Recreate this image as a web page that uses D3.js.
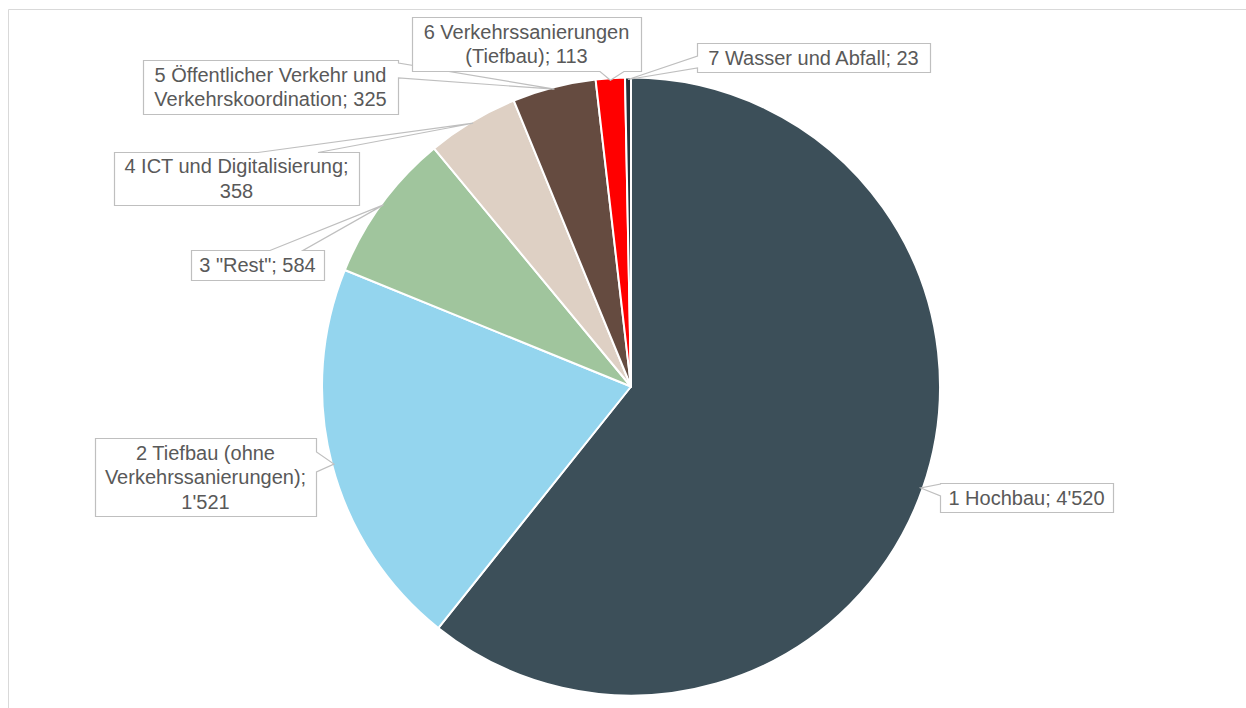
<!DOCTYPE html>
<html>
<head>
<meta charset="utf-8">
<script src="https://cdn.jsdelivr.net/npm/d3@7/dist/d3.min.js"></script>
<style>
  html, body { margin: 0; padding: 0; background: #ffffff; }
  svg { display: block; }
</style>
</head>
<body>
<svg id="chart" width="1246" height="708"></svg>
<script>
// Investitionen nach Bereich
const categories = [
  "1 Hochbau",
  "2 Tiefbau (ohne Verkehrssanierungen)",
  "3 \"Rest\"",
  "4 ICT und Digitalisierung",
  "5 Öffentlicher Verkehr und Verkehrskoordination",
  "6 Verkehrssanierungen (Tiefbau)",
  "7 Wasser und Abfall"
];
const values = [4520, 1521, 584, 358, 325, 113, 23];
const sliceColors = ["#3c4f59", "#94d5ee", "#a0c59d", "#ded0c4", "#654b40", "#ff0000", "#25323a"];

// Callout boxes: rectangle, edge carrying the pointer, and the pointer base along that edge
const callouts = [
  { x: 940, y: 483, w: 173, h: 29, side: "left",   a: 484, b: 496 },
  { x: 95,  y: 438, w: 221, h: 78, side: "right",  a: 452, b: 472 },
  { x: 191, y: 250, w: 133, h: 30, side: "top",    a: 270, b: 303 },
  { x: 114, y: 152, w: 245, h: 53, side: "top",    a: 258, b: 318 },
  { x: 143, y: 60,  w: 255, h: 54, side: "right",  a: 63,  b: 78 },
  { x: 412, y: 17,  w: 229, h: 54, side: "bottom", a: 600, b: 624 },
  { x: 697, y: 43,  w: 233, h: 29, side: "left",   a: 56,  b: 68 }
];

const svg = d3.select("#chart");
const cx = 631, cy = 386.5, radius = 309;
const fontSize = 20, lineH = 24.5;

// Outer frame (top and left edges visible)
svg.append("path")
  .attr("d", "M8.5,708 L8.5,9.5 L1246,9.5")
  .attr("fill", "none")
  .attr("stroke", "#d9d9d9")
  .attr("stroke-width", 1);

const data = categories.map((c, i) => ({ category: c, value: values[i], color: sliceColors[i] }));

const pie = d3.pie().value(d => d.value).sort(null).startAngle(0).endAngle(2 * Math.PI);
const arcs = pie(data);
const arc = d3.arc().innerRadius(0).outerRadius(radius);
const edgeArc = d3.arc().innerRadius(radius - 2).outerRadius(radius - 2);

const g = svg.append("g").attr("transform", `translate(${cx},${cy})`);
g.selectAll("path.slice")
  .data(arcs)
  .join("path")
  .attr("class", "slice")
  .attr("d", arc)
  .attr("fill", d => d.data.color)
  .attr("stroke", "#ffffff")
  .attr("stroke-width", 2)
  .attr("stroke-linejoin", "round");

const fmt = d3.formatLocale({ decimal: ".", thousands: "'", grouping: [3], currency: ["", ""] }).format(",d");

// Word wrap by measured width
const measurer = svg.append("text")
  .attr("font-family", "'Liberation Sans', Arial, sans-serif")
  .attr("font-size", fontSize)
  .attr("visibility", "hidden");
function textWidth(s) { measurer.text(s); return measurer.node().getComputedTextLength(); }
function wrap(str, maxW) {
  const words = str.split(" ");
  const lines = [];
  let cur = words[0];
  for (let i = 1; i < words.length; i++) {
    const t = cur + " " + words[i];
    if (textWidth(t) <= maxW) cur = t; else { lines.push(cur); cur = words[i]; }
  }
  lines.push(cur);
  return lines;
}

function calloutPath(c, tip) {
  const x0 = c.x + 0.5, y0 = c.y + 0.5, x1 = c.x + c.w + 0.5, y1 = c.y + c.h + 0.5;
  const lo = Math.min(c.a, c.b), hi = Math.max(c.a, c.b);
  const pts = [[x0, y0]];
  if (c.side === "top") pts.push([lo, y0], tip, [hi, y0]);
  pts.push([x1, y0]);
  if (c.side === "right") pts.push([x1, lo], tip, [x1, hi]);
  pts.push([x1, y1]);
  if (c.side === "bottom") pts.push([hi, y1], tip, [lo, y1]);
  pts.push([x0, y1]);
  if (c.side === "left") pts.push([x0, hi], tip, [x0, lo]);
  return "M" + pts.map(p => p[0] + "," + p[1]).join("L") + "Z";
}

const labels = svg.append("g");
arcs.forEach((d, i) => {
  const c = callouts[i];
  const m = edgeArc.centroid(d);
  const tip = [cx + m[0], cy + m[1]];
  labels.append("path")
    .attr("d", calloutPath(c, tip))
    .attr("fill", "#ffffff")
    .attr("stroke", "#bfbfbf")
    .attr("stroke-width", 1.2)
    .attr("stroke-linejoin", "miter");
  const lines = wrap(`${d.data.category}; ${fmt(d.data.value)}`, c.w - 12);
  const midY = c.y + c.h / 2;
  const firstY = midY - (lines.length - 1) * lineH / 2;
  const t = labels.append("text")
    .attr("font-family", "'Liberation Sans', Arial, sans-serif")
    .attr("font-size", fontSize)
    .attr("fill", "#595959")
    .attr("text-anchor", "middle");
  lines.forEach((ln, k) => {
    t.append("tspan")
      .attr("x", c.x + c.w / 2)
      .attr("y", firstY + k * lineH + fontSize * 0.35)
      .text(ln);
  });
});
measurer.remove();
</script>
</body>
</html>
